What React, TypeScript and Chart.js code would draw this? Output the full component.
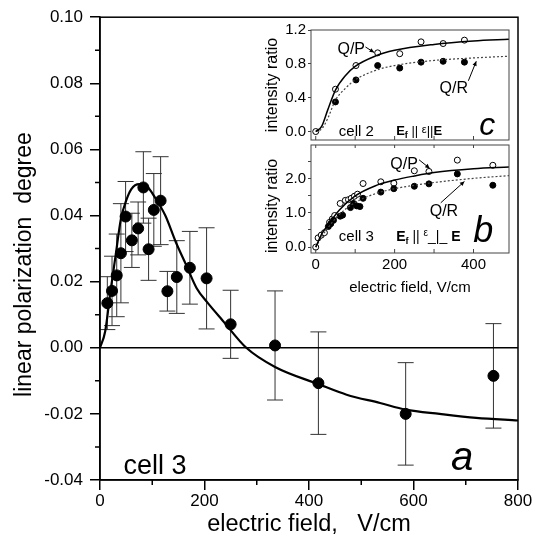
import { useEffect, useRef } from "react";
import { Chart, registerables } from "chart.js";
Chart.register(...registerables);

const FONT = '"Liberation Sans", Arial, Helvetica, sans-serif';

// ---------- main panel (a): cell 3 ----------
const fieldA = [14, 23, 32, 40, 49, 61, 73, 83, 93, 103, 116, 129, 147, 172, 204, 250, 335, 418, 585, 753];
const polA = [0.0135, 0.0172, 0.0219, 0.0286, 0.0397, 0.0325, 0.0361, 0.0485, 0.0298, 0.0417, 0.0445, 0.0171, 0.0214, 0.0242, 0.021, 0.0071, 0.0007, -0.0107, -0.02, -0.0085];
const errA = [0.008, 0.0105, 0.0125, 0.015, 0.0106, 0.0082, 0.008, 0.0108, 0.0094, 0.011, 0.0133, 0.006, 0.011, 0.011, 0.0153, 0.0103, 0.0165, 0.0155, 0.0155, 0.0158];
const fitFieldA = [0, 10, 20, 30, 40, 50, 60, 75, 90, 105, 125, 145, 165, 185, 205, 235, 280, 335, 418, 472, 536, 585, 650, 720, 800];
const fitPolA = [0, 0.005, 0.017, 0.028, 0.039, 0.0445, 0.048, 0.0495, 0.0488, 0.0455, 0.04, 0.032, 0.025, 0.018, 0.0138, 0.0082, 0, -0.0058, -0.011, -0.0142, -0.0167, -0.0187, -0.02, -0.0212, -0.022];
const zeroLineX = [0, 800];
const zeroLineY = [0, 0];

// ---------- inset panel (c): cell 2 ----------
const fieldCP = [0, 50, 102, 157, 213, 267, 323, 377];
const qpC = [0, 0.5, 0.78, 0.93, 0.92, 1.06, 1.04, 1.08];
const fieldCR = [50, 102, 157, 213, 267, 323, 377];
const qrC = [0.35, 0.61, 0.78, 0.75, 0.82, 0.83, 0.82];
const fitFieldC = [0, 15, 30, 50, 75, 100, 150, 200, 300, 400, 490];
const fitQpC = [0, 0.06, 0.25, 0.49, 0.66, 0.77, 0.89, 0.96, 1.03, 1.07, 1.09];
const fitQrC = [0, 0.03, 0.15, 0.37, 0.51, 0.61, 0.72, 0.78, 0.84, 0.87, 0.89];

// ---------- inset panel (b): cell 3 ----------
const fieldBP = [0, 6, 14, 22, 35, 42, 48, 62, 75, 83, 90, 98, 106, 120, 165, 198, 250, 287, 359, 449];
const qpB = [0, 0.27, 0.35, 0.42, 0.72, 0.82, 0.92, 1.27, 1.36, 1.38, 1.42, 1.48, 1.54, 1.85, 1.9, 1.86, 2.22, 2.2, 2.53, 2.38];
const fieldBR = [32, 38, 45, 62, 68, 88, 96, 104, 112, 120, 165, 198, 250, 287, 359, 449];
const qrB = [0.6, 0.68, 0.78, 0.9, 0.93, 1.15, 1.27, 1.2, 1.18, 1.42, 1.6, 1.7, 1.77, 1.84, 2.13, 1.8];
const fitFieldB = [0, 15, 30, 60, 100, 150, 200, 250, 300, 400, 490];
const fitQpB = [0, 0.38, 0.63, 1.08, 1.49, 1.78, 1.95, 2.07, 2.17, 2.28, 2.33];
const fitQrB = [0, 0.3, 0.55, 0.95, 1.3, 1.55, 1.7, 1.8, 1.88, 2.0, 2.08];

const pts = (xs: number[], ys: number[]) => xs.map((x, i) => ({ x, y: ys[i] }));

function drawArrow(ctx: CanvasRenderingContext2D, x1: number, y1: number, x2: number, y2: number) {
  ctx.beginPath();
  ctx.moveTo(x1, y1);
  ctx.lineTo(x2, y2);
  ctx.stroke();
  const a = Math.atan2(y2 - y1, x2 - x1);
  const h = 5;
  ctx.beginPath();
  ctx.moveTo(x2, y2);
  ctx.lineTo(x2 - h * Math.cos(a - 0.45), y2 - h * Math.sin(a - 0.45));
  ctx.lineTo(x2 - h * Math.cos(a + 0.45), y2 - h * Math.sin(a + 0.45));
  ctx.closePath();
  ctx.fill();
}

type Piece = [string, string, number];
function drawPieces(ctx: CanvasRenderingContext2D, x: number, y: number, pieces: Piece[]) {
  let cx = x;
  for (const [t, font, dy] of pieces) {
    ctx.font = font;
    ctx.fillText(t, cx, y + dy);
    cx += ctx.measureText(t).width;
  }
}

const noPad = (s: any) => {
  s.paddingTop = 0;
  s.paddingBottom = 0;
  s.paddingLeft = 0;
  s.paddingRight = 0;
};

function makeMain(canvas: HTMLCanvasElement) {
  const decor = {
    id: "mainDecor",
    beforeDatasetsDraw(chart: any) {
      const { ctx, scales } = chart;
      const x = scales.x, y = scales.y;
      ctx.save();
      ctx.strokeStyle = "#333";
      ctx.lineWidth = 1;
      fieldA.forEach((f, i) => {
        const px = x.getPixelForValue(f);
        const top = y.getPixelForValue(polA[i] + errA[i]);
        const bot = y.getPixelForValue(polA[i] - errA[i]);
        ctx.beginPath();
        ctx.moveTo(px, top);
        ctx.lineTo(px, bot);
        ctx.moveTo(px - 8, top);
        ctx.lineTo(px + 8, top);
        ctx.moveTo(px - 8, bot);
        ctx.lineTo(px + 8, bot);
        ctx.stroke();
      });
      ctx.restore();
    },
    afterDraw(chart: any) {
      const { ctx, chartArea: ca, scales } = chart;
      const x = scales.x, y = scales.y;
      ctx.save();
      ctx.strokeStyle = "#000";
      ctx.lineWidth = 1.5;
      ctx.strokeRect(ca.left, ca.top, ca.right - ca.left, ca.bottom - ca.top);
      ctx.beginPath();
      for (let v = 100; v < 800; v += 200) {
        const px = x.getPixelForValue(v);
        ctx.moveTo(px, ca.bottom);
        ctx.lineTo(px, ca.bottom + 5);
      }
      for (let k = -3; k <= 9; k += 2) {
        const py = y.getPixelForValue(k / 100);
        ctx.moveTo(ca.left - 5, py);
        ctx.lineTo(ca.left, py);
      }
      ctx.stroke();
      ctx.fillStyle = "#000";
      ctx.textBaseline = "middle";
      ctx.textAlign = "left";
      ctx.font = `27px ${FONT}`;
      ctx.fillText("cell 3", x.getPixelForValue(45), y.getPixelForValue(-0.0358));
      ctx.textAlign = "center";
      ctx.font = `italic 40px ${FONT}`;
      ctx.fillText("a", x.getPixelForValue(693), y.getPixelForValue(-0.0337));
      ctx.restore();
    },
  };
  return new Chart(canvas, {
    type: "scatter",
    data: {
      datasets: [
        { type: "line", data: pts(zeroLineX, zeroLineY), borderColor: "#000", borderWidth: 1.5, pointRadius: 0 },
        { type: "line", data: pts(fitFieldA, fitPolA), borderColor: "#000", borderWidth: 2.2, pointRadius: 0, cubicInterpolationMode: "monotone" },
        { type: "scatter", data: pts(fieldA, polA), backgroundColor: "#000", borderColor: "#000", pointRadius: 5.5 },
      ],
    } as any,
    options: {
      responsive: false,
      animation: false,
      devicePixelRatio: 1,
      layout: { padding: { top: 17, right: 19, left: 0, bottom: 0 } },
      plugins: { legend: { display: false }, tooltip: { enabled: false } },
      scales: {
        x: {
          type: "linear",
          min: 0,
          max: 800,
          ticks: { stepSize: 200, color: "#000", font: { family: FONT, size: 17 }, padding: 1, maxRotation: 0, includeBounds: false },
          grid: { drawOnChartArea: false, drawTicks: true, tickLength: 10, color: "#000", lineWidth: 1.5 },
          border: { display: true, color: "#000", width: 1.5 },
          title: { display: true, text: "electric field,   V/cm", color: "#000", font: { family: FONT, size: 23.5 }, padding: { top: 0, bottom: 9 } },
          afterFit: (s: any) => { s.height = 68; },
        },
        y: {
          type: "linear",
          min: -0.04,
          max: 0.1,
          ticks: {
            stepSize: 0.02,
            color: "#000",
            font: { family: FONT, size: 17 },
            padding: 7,
            includeBounds: false,
            callback: (v: any) => Number(v).toFixed(2),
          },
          grid: { drawOnChartArea: false, drawTicks: true, tickLength: 10, color: "#000", lineWidth: 1.5 },
          border: { display: true, color: "#000", width: 1.5 },
          title: { display: true, text: "linear polarization  degree     ", color: "#000", font: { family: FONT, size: 23 }, padding: { top: 11, bottom: 0 } },
          afterFit: (s: any) => { s.width = 100; },
        },
      },
    } as any,
    plugins: [decor],
  });
}

function insetFrame(chart: any, withTopTicks: boolean) {
  const { ctx, chartArea: ca, scales } = chart;
  const x = scales.x;
  ctx.save();
  ctx.strokeStyle = "#444";
  ctx.lineWidth = 1;
  ctx.strokeRect(ca.left, ca.top, ca.right - ca.left, ca.bottom - ca.top);
  ctx.beginPath();
  for (let v = 0; v <= 400; v += 100) {
    const px = x.getPixelForValue(v);
    ctx.moveTo(px, ca.bottom);
    ctx.lineTo(px, ca.bottom - 4);
    if (withTopTicks) {
      ctx.moveTo(px, ca.top);
      ctx.lineTo(px, ca.top + 3);
    }
  }
  ctx.stroke();
  ctx.restore();
}

function insetOptions(yMin: number, yMax: number, yStep: number, labelEvery: number, showX: boolean, padTop: number, titleAlign: string) {
  return {
    responsive: false,
    animation: false,
    devicePixelRatio: 1,
    layout: { padding: { top: padTop, right: 11, left: 0, bottom: 0 } },
    plugins: { legend: { display: false }, tooltip: { enabled: false } },
    scales: {
      x: {
        type: "linear",
        min: -12,
        max: 490,
        ticks: {
          display: showX,
          stepSize: 200,
          color: "#000",
          font: { family: FONT, size: 15 },
          padding: 3,
          maxRotation: 0,
          autoSkip: false,
          includeBounds: false,
        },
        grid: { drawOnChartArea: false, drawTicks: false },
        border: { display: false },
        title: { display: showX, text: "electric field, V/cm", color: "#000", font: { family: FONT, size: 15 }, padding: { top: 0, bottom: 3 } },
        afterFit: (s: any) => { s.height = showX ? 47 : 2; noPad(s); },
      },
      y: {
        type: "linear",
        min: yMin,
        max: yMax,
        ticks: {
          stepSize: yStep,
          color: "#000",
          font: { family: FONT, size: 15 },
          padding: 2,
          includeBounds: false,
          callback: (v: any) => {
            const r = Math.round((v / labelEvery) * 1000) / 1000;
            return Math.abs(r - Math.round(r)) < 1e-6 ? Number(v).toFixed(1) : "";
          },
        },
        grid: { drawOnChartArea: false, drawTicks: true, tickLength: 3, color: "#444" },
        border: { display: false },
        title: { display: true, text: "intensity ratio", color: "#000", font: { family: FONT, size: 16 }, padding: { top: 13, bottom: 0 }, align: titleAlign },
        afterFit: (s: any) => { s.width = 61; noPad(s); },
      },
    },
  } as any;
}

function makeC(canvas: HTMLCanvasElement) {
  const decor = {
    id: "cDecor",
    afterDraw(chart: any) {
      insetFrame(chart, false);
      const { ctx, scales } = chart;
      const X = (v: number) => scales.x.getPixelForValue(v);
      const Y = (v: number) => scales.y.getPixelForValue(v);
      ctx.save();
      ctx.fillStyle = "#000";
      ctx.strokeStyle = "#000";
      ctx.lineWidth = 1;
      ctx.textBaseline = "middle";
      ctx.textAlign = "center";
      ctx.font = `16px ${FONT}`;
      ctx.fillText("Q/P", X(90), Y(0.97));
      ctx.fillText("Q/R", X(350), Y(0.51));
      drawArrow(ctx, X(126), Y(1.0), X(148), Y(0.935));
      drawArrow(ctx, X(387), Y(0.6), X(407), Y(0.83));
      ctx.font = `15px ${FONT}`;
      ctx.fillText("cell 2", X(103), Y(0.0));
      ctx.textAlign = "left";
      drawPieces(ctx, X(204), Y(0.0), [
        ["E", `bold 13px ${FONT}`, 0],
        ["f", `bold 9px ${FONT}`, 4],
        [" || ", `13px ${FONT}`, 0],
        ["ε", `11px ${FONT}`, -2],
        ["||", `13px ${FONT}`, 0],
        ["E", `bold 13px ${FONT}`, 0],
      ]);
      ctx.textAlign = "center";
      ctx.font = `italic 32px ${FONT}`;
      ctx.fillText("c", X(435), Y(0.06));
      ctx.restore();
    },
  };
  return new Chart(canvas, {
    type: "scatter",
    data: {
      datasets: [
        { type: "line", data: pts(fitFieldC, fitQpC), borderColor: "#000", borderWidth: 1.5, pointRadius: 0, cubicInterpolationMode: "monotone" },
        { type: "line", data: pts(fitFieldC, fitQrC), borderColor: "#444", borderWidth: 1.2, borderDash: [2, 2], pointRadius: 0, cubicInterpolationMode: "monotone" },
        { type: "scatter", data: pts(fieldCP, qpC), backgroundColor: "#fff", borderColor: "#000", borderWidth: 1, pointRadius: 3 },
        { type: "scatter", data: pts(fieldCR, qrC), backgroundColor: "#000", borderColor: "#000", borderWidth: 1, pointRadius: 3 },
      ],
    } as any,
    options: insetOptions(-0.1, 1.2, 0.2, 0.4, false, 10, "center"),
    plugins: [decor],
  });
}

function makeB(canvas: HTMLCanvasElement) {
  const decor = {
    id: "bDecor",
    afterDraw(chart: any) {
      insetFrame(chart, true);
      const { ctx, scales } = chart;
      const X = (v: number) => scales.x.getPixelForValue(v);
      const Y = (v: number) => scales.y.getPixelForValue(v);
      ctx.save();
      ctx.fillStyle = "#000";
      ctx.strokeStyle = "#000";
      ctx.lineWidth = 1;
      ctx.textBaseline = "middle";
      ctx.textAlign = "center";
      ctx.font = `16px ${FONT}`;
      ctx.fillText("Q/P", X(224), Y(2.4));
      ctx.fillText("Q/R", X(325), Y(1.03));
      drawArrow(ctx, X(262), Y(2.54), X(289), Y(2.29));
      drawArrow(ctx, X(317), Y(1.29), X(377), Y(1.91));
      ctx.font = `15px ${FONT}`;
      ctx.fillText("cell 3", X(103), Y(0.29));
      ctx.textAlign = "left";
      drawPieces(ctx, X(204), Y(0.29), [
        ["E", `bold 14px ${FONT}`, 0],
        ["f", `bold 9px ${FONT}`, 4],
        [" || ", `14px ${FONT}`, 0],
        ["ε", `10px ${FONT}`, -4],
        ["_|_ ", `14px ${FONT}`, 0],
        ["E", `bold 14px ${FONT}`, 0],
      ]);
      ctx.textAlign = "center";
      ctx.font = `italic 36px ${FONT}`;
      ctx.fillText("b", X(425), Y(0.43));
      ctx.restore();
    },
  };
  return new Chart(canvas, {
    type: "scatter",
    data: {
      datasets: [
        { type: "line", data: pts(fitFieldB, fitQpB), borderColor: "#000", borderWidth: 1.5, pointRadius: 0, cubicInterpolationMode: "monotone" },
        { type: "line", data: pts(fitFieldB, fitQrB), borderColor: "#444", borderWidth: 1.2, borderDash: [2, 2], pointRadius: 0, cubicInterpolationMode: "monotone" },
        { type: "scatter", data: pts(fieldBR, qrB), backgroundColor: "#000", borderColor: "#000", borderWidth: 1, pointRadius: 3 },
        { type: "scatter", data: pts(fieldBP, qpB), backgroundColor: "#fff", borderColor: "#000", borderWidth: 1, pointRadius: 3 },
      ],
    } as any,
    options: insetOptions(-0.17, 2.97, 0.5, 1, true, 3, "start"),
    plugins: [decor],
  });
}

export default function App() {
  const mainRef = useRef<HTMLCanvasElement>(null);
  const cRef = useRef<HTMLCanvasElement>(null);
  const bRef = useRef<HTMLCanvasElement>(null);
  useEffect(() => {
    const charts = [makeMain(mainRef.current!), makeC(cRef.current!), makeB(bRef.current!)];
    return () => charts.forEach((c) => c.destroy());
  }, []);
  return (
    <div style={{ position: "absolute", left: 0, top: 0, width: 537, height: 548, background: "#fff" }}>
      <canvas ref={mainRef} width={537} height={548} style={{ position: "absolute", left: 0, top: 0 }} />
      <canvas ref={cRef} width={270} height={125} style={{ position: "absolute", left: 250, top: 20 }} />
      <canvas ref={bRef} width={270} height={160} style={{ position: "absolute", left: 250, top: 140 }} />
    </div>
  );
}
